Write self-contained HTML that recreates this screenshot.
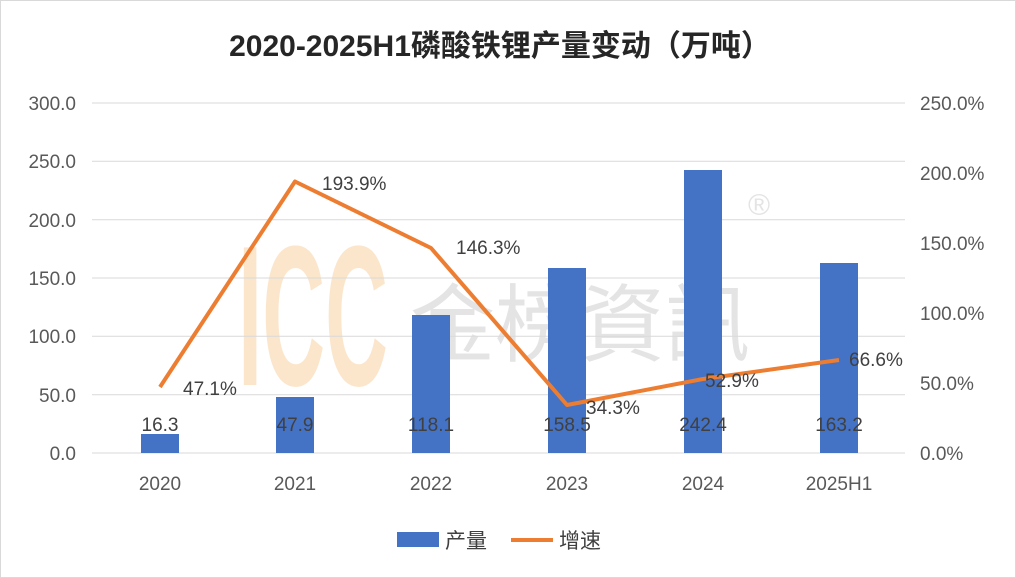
<!DOCTYPE html>
<html><head><meta charset="utf-8"><style>
body{margin:0;background:#fff;}
svg{display:block;}
text{font-family:"Liberation Sans","Noto Sans CJK SC",sans-serif;}
</style></head><body>
<svg width="1016" height="578" viewBox="0 0 1016 578" xmlns="http://www.w3.org/2000/svg">
<rect x="0.5" y="0.5" width="1015" height="577" fill="#fff" stroke="#d9d9d9"/>
<text x="500" y="56" text-anchor="middle" font-size="30" font-weight="bold" fill="#262626">2020-2025H1磷酸铁锂产量变动（万吨）</text>
<text x="238" y="385" font-size="200" font-weight="bold" fill="#fbe6cc" textLength="150" lengthAdjust="spacingAndGlyphs">ICC</text>
<text x="410" y="355" font-size="85" fill="#e4e4e4" textLength="340" lengthAdjust="spacingAndGlyphs">金榜資訊</text>
<text x="748" y="215" font-size="30" fill="#e4e4e4">®</text>
<g stroke="#d9d9d9" stroke-width="1">
<line x1="92" y1="103" x2="905" y2="103"/>
<line x1="92" y1="161.3" x2="905" y2="161.3"/>
<line x1="92" y1="219.7" x2="905" y2="219.7"/>
<line x1="92" y1="278" x2="905" y2="278"/>
<line x1="92" y1="336.3" x2="905" y2="336.3"/>
<line x1="92" y1="394.7" x2="905" y2="394.7"/>
<line x1="92" y1="453" x2="905" y2="453"/>
</g>
<g font-size="19" fill="#595959" text-anchor="end">
<text x="76" y="110">300.0</text>
<text x="76" y="168">250.0</text>
<text x="76" y="227">200.0</text>
<text x="76" y="285">150.0</text>
<text x="76" y="343">100.0</text>
<text x="76" y="402">50.0</text>
<text x="76" y="460">0.0</text>
</g>
<g font-size="19" fill="#595959">
<text x="920" y="110">250.0%</text>
<text x="920" y="180">200.0%</text>
<text x="920" y="250">150.0%</text>
<text x="920" y="320">100.0%</text>
<text x="920" y="390">50.0%</text>
<text x="920" y="460">0.0%</text>
</g>
<g fill="#4472c4">
<rect x="141" y="434" width="38" height="19"/>
<rect x="276" y="397" width="38" height="56"/>
<rect x="412" y="315" width="38" height="138"/>
<rect x="548" y="268" width="38" height="185"/>
<rect x="684" y="170" width="38" height="283"/>
<rect x="820" y="263" width="38" height="190"/>
</g>
<g font-size="19" fill="#404040" text-anchor="middle">
<text x="160" y="431">16.3</text>
<text x="295" y="431">47.9</text>
<text x="431" y="431">118.1</text>
<text x="567" y="431">158.5</text>
<text x="703" y="431">242.4</text>
<text x="839" y="431">163.2</text>
</g>
<polyline points="160,387 295,181.5 431,248 567,405 703,379 839,360" fill="none" stroke="#ed7d31" stroke-width="4" stroke-linejoin="round"/>
<g font-size="19" fill="#404040">
<text x="183" y="395">47.1%</text>
<text x="322" y="190">193.9%</text>
<text x="456" y="254">146.3%</text>
<text x="586" y="414">34.3%</text>
<text x="705" y="387">52.9%</text>
<text x="849" y="366">66.6%</text>
</g>
<g font-size="19" fill="#595959" text-anchor="middle">
<text x="160" y="490">2020</text>
<text x="295" y="490">2021</text>
<text x="431" y="490">2022</text>
<text x="567" y="490">2023</text>
<text x="703" y="490">2024</text>
<text x="839" y="490">2025H1</text>
</g>
<rect x="397" y="532" width="42" height="15" fill="#4472c4"/>
<text x="445" y="548" font-size="21" fill="#404040">产量</text>
<line x1="511" y1="540" x2="553" y2="540" stroke="#ed7d31" stroke-width="4"/>
<text x="559" y="548" font-size="21" fill="#404040">增速</text>
</svg>
</body></html>
